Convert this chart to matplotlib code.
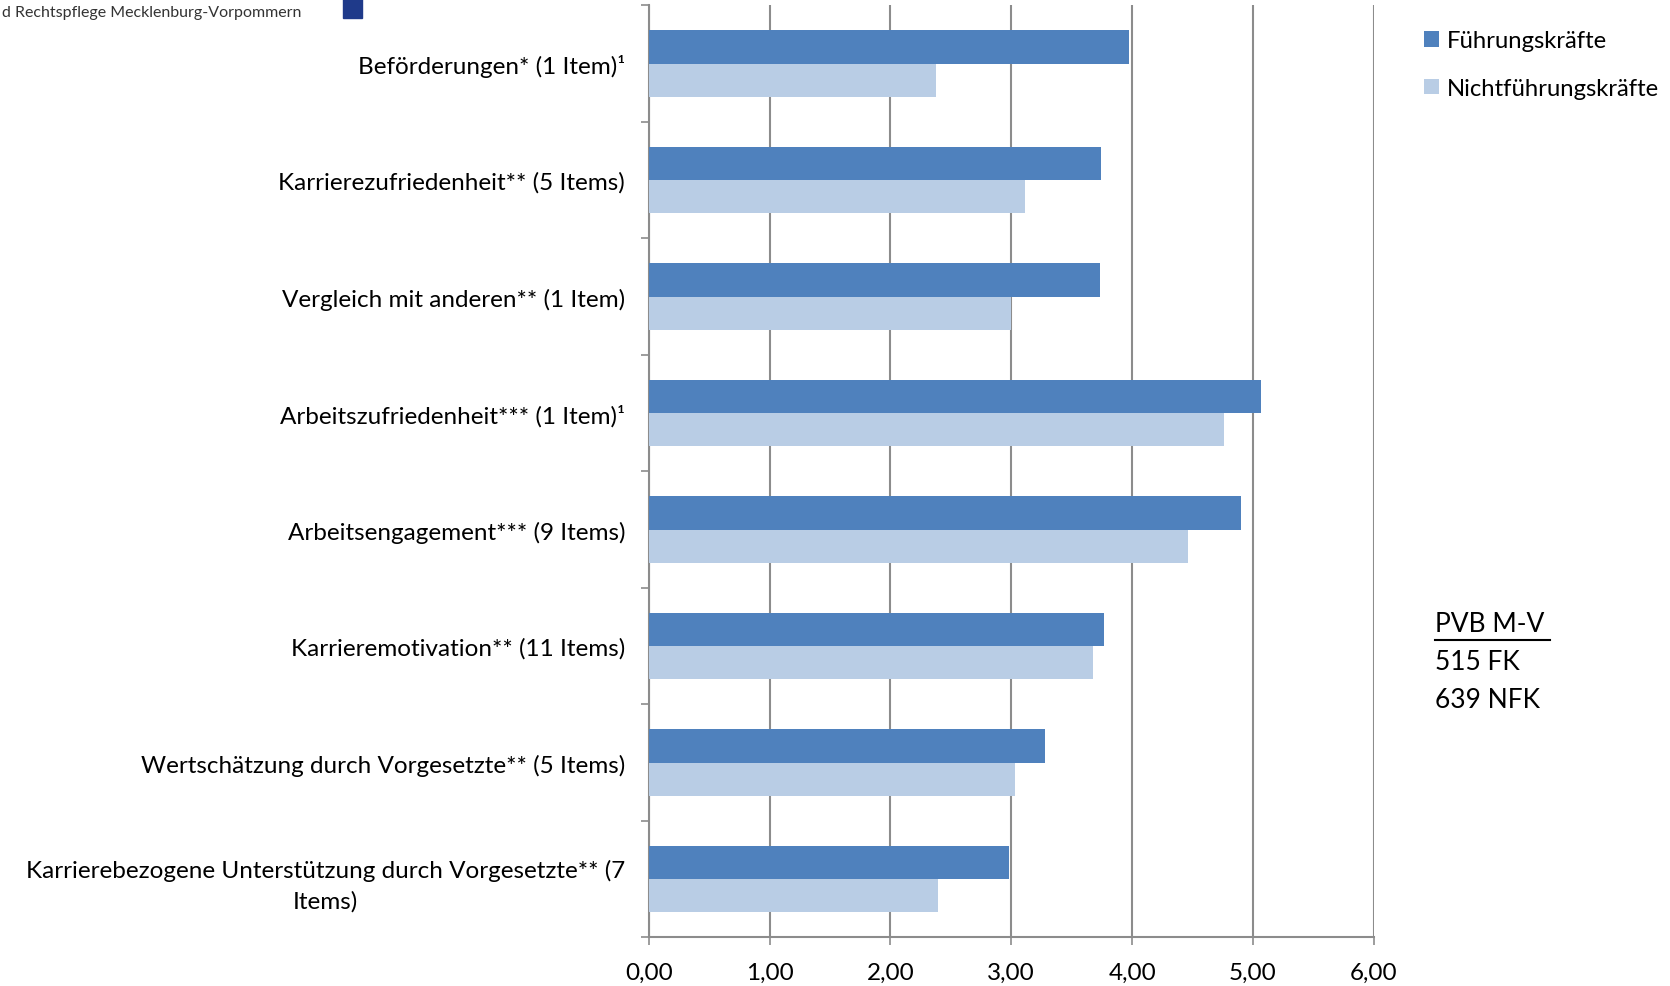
import matplotlib
matplotlib.use("Agg")
import matplotlib.pyplot as plt
import numpy as np

plt.rcParams['font.family'] = ['Lato', 'DejaVu Sans']

categories = [
    "Beförderungen* (1 Item)¹",
    "Karrierezufriedenheit** (5 Items)",
    "Vergleich mit anderen** (1 Item)",
    "Arbeitszufriedenheit*** (1 Item)¹",
    "Arbeitsengagement*** (9 Items)",
    "Karrieremotivation** (11 Items)",
    "Wertschätzung durch Vorgesetzte** (5 Items)",
    "Karrierebezogene Unterstützung durch Vorgesetzte** (7\nItems)",
]
fk = [3.97, 3.74, 3.73, 5.07, 4.90, 3.77, 3.28, 2.98]
nfk = [2.38, 3.11, 3.00, 4.76, 4.46, 3.68, 3.03, 2.39]
xticks = [0, 1, 2, 3, 4, 5, 6]

c_fk, c_nfk = "#4F81BD", "#B9CDE5"
grid = "#8C8C8C"

fig = plt.figure(figsize=(16.7, 9.87), dpi=100)
ax = fig.add_axes([0.3884, 0.0493, 0.8227 - 0.3884, 0.9935 - 0.0493])

y = np.arange(len(categories))
h = 0.285
ax.barh(y - h / 2, fk, height=h, color=c_fk, label="Führungskräfte", zorder=3)
ax.barh(y + h / 2, nfk, height=h, color=c_nfk, label="Nichtführungskräfte", zorder=3)

ax.set_xlim(0, 6)
ax.set_ylim(len(categories) - 0.5, -0.5)
ax.set_xticks(xticks)
ax.set_xticklabels([f"{v:.2f}".replace(".", ",") for v in xticks], fontsize=17.5)
ax.set_yticks(y)
ax.set_yticklabels(categories, fontsize=17.5, ha="right", multialignment="center",
                   linespacing=1.5)
ax.tick_params(axis="y", length=0, pad=17)
ax.set_yticks(np.arange(-0.5, len(categories), 1), minor=True)
ax.tick_params(axis="y", which="minor", length=6, color=grid, width=1.2)
ax.tick_params(axis="x", length=6, color=grid, width=1.2, pad=12)
ax.grid(axis="x", color=grid, lw=1.5, zorder=0)

for s in ["top", "right"]:
    ax.spines[s].set_visible(False)
for s in ["left", "bottom"]:
    ax.spines[s].set_color(grid)
    ax.spines[s].set_linewidth(1.5)

leg = fig.legend(loc="upper left", bbox_to_anchor=(0.840, 0.99), frameon=False,
                 fontsize=17.2, handlelength=0.6, handleheight=0.6, handletextpad=0.35,
                 labelspacing=1.1)

fig.text(0.859, 0.367, "PVB M-V", fontsize=19, va="center")
fig.add_artist(plt.Line2D([0.859, 0.928], [0.351, 0.351], color="black", lw=1.5))
fig.text(0.859, 0.329, "515 FK", fontsize=19, va="center")
fig.text(0.859, 0.290, "639 NFK", fontsize=19, va="center")

# logo fragment top-left
fig.text(0.001, 0.987, "d Rechtspflege Mecklenburg-Vorpommern", fontsize=11.5, va="center",
         color="#333333")
fig.add_artist(plt.Rectangle((0.2055, 0.9805), 0.011, 0.0195, color="#1F3A8A",
                             transform=fig.transFigure))

fig.savefig("out.png", dpi=100)
